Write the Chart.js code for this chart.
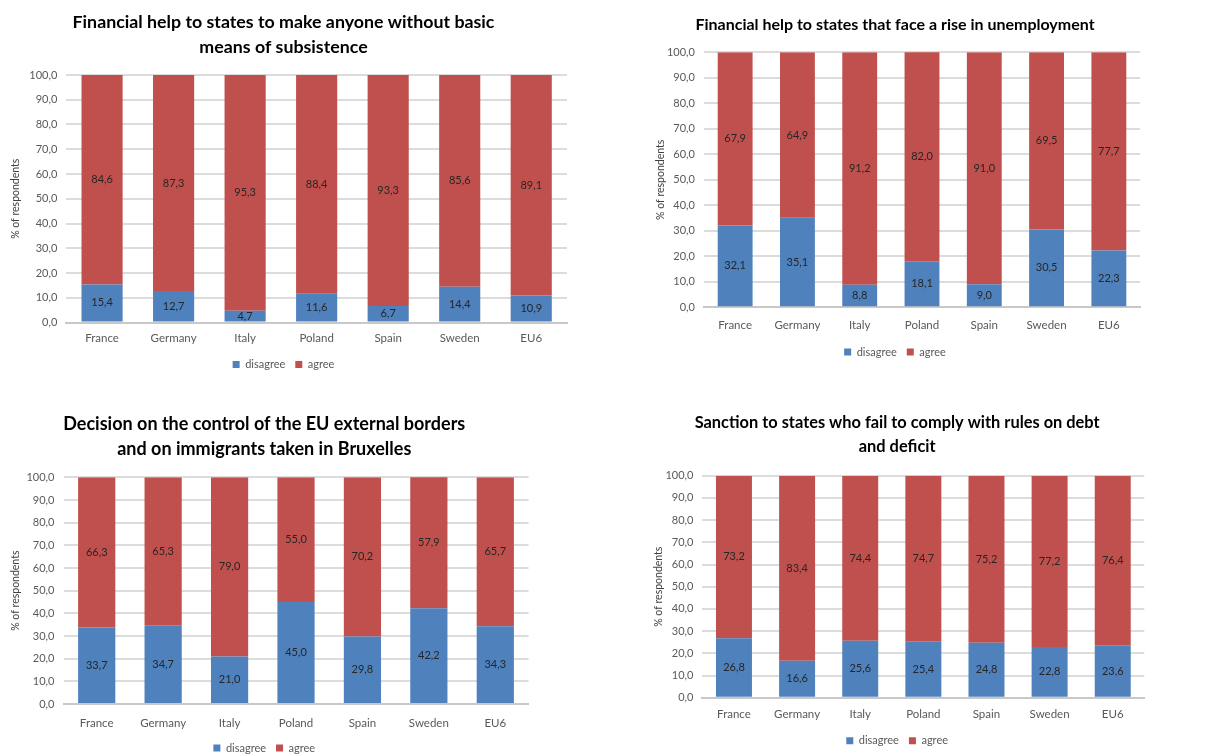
<!DOCTYPE html>
<html>
<head>
<meta charset="utf-8">
<script src="https://cdn.jsdelivr.net/npm/chart.js@4.4.1/dist/chart.umd.min.js"></script>
<style>
  html, body { margin: 0; padding: 0; background: #ffffff; overflow: hidden; }
  body { width: 1223px; height: 754px; position: relative; }
  .panel { position: absolute; }
  canvas { display: block; }
</style>
</head>
<body>
<div class="panel" id="p1"><canvas id="c1"></canvas></div>
<div class="panel" id="p2"><canvas id="c2"></canvas></div>
<div class="panel" id="p3"><canvas id="c3"></canvas></div>
<div class="panel" id="p4"><canvas id="c4"></canvas></div>
<script>
// Survey answers, % of respondents per country
const countries = ['France', 'Germany', 'Italy', 'Poland', 'Spain', 'Sweden', 'EU6'];
const seriesNames = ['disagree', 'agree'];
const yTicks = [0, 10, 20, 30, 40, 50, 60, 70, 80, 90, 100];

const titleSubsistence = ['Financial help to states to make anyone without basic', 'means of subsistence'];
const disagreeSubsistence = [15.4, 12.7, 4.7, 11.6, 6.7, 14.4, 10.9];
const agreeSubsistence = [84.6, 87.3, 95.3, 88.4, 93.3, 85.6, 89.1];

const titleUnemployment = 'Financial help to states that face a rise in unemployment';
const disagreeUnemployment = [32.1, 35.1, 8.8, 18.1, 9.0, 30.5, 22.3];
const agreeUnemployment = [67.9, 64.9, 91.2, 82.0, 91.0, 69.5, 77.7];

const titleBorders = ['Decision on the control of the EU external borders', 'and on immigrants taken in Bruxelles'];
const disagreeBorders = [33.7, 34.7, 21.0, 45.0, 29.8, 42.2, 34.3];
const agreeBorders = [66.3, 65.3, 79.0, 55.0, 70.2, 57.9, 65.7];

const titleSanction = ['Sanction to states who fail to comply with rules on debt', 'and deficit'];
const disagreeSanction = [26.8, 16.6, 25.6, 25.4, 24.8, 22.8, 23.6];
const agreeSanction = [73.2, 83.4, 74.4, 74.7, 75.2, 77.2, 76.4];

const BLUE = '#4F81BD';
const RED = '#C0504D';
const FONT = "Lato, 'Open Sans', sans-serif";

const fmt = v => Number(v).toFixed(1).replace('.', ',');

// Writes each segment's value in the middle of its bar piece
const segmentLabels = {
  id: 'segmentLabels',
  afterDatasetsDraw(chart) {
    const ctx = chart.ctx;
    ctx.save();
    ctx.font = '11px ' + FONT;
    ctx.fillStyle = '#262626';
    ctx.textAlign = 'center';
    ctx.textBaseline = 'middle';
    chart.data.datasets.forEach((ds, di) => {
      chart.getDatasetMeta(di).data.forEach((bar, i) => {
        const p = bar.getProps(['x', 'y', 'base'], true);
        ctx.fillText(fmt(ds.data[i]), p.x, (p.y + p.base) / 2);
      });
    });
    ctx.restore();
  }
};

function makeChart(cfg) {
  const panel = document.getElementById(cfg.panel);
  panel.style.left = cfg.left + 'px';
  panel.style.top = cfg.top + 'px';
  const canvas = document.getElementById(cfg.canvas);
  canvas.width = cfg.width;
  canvas.height = cfg.height;
  canvas.style.width = cfg.width + 'px';
  canvas.style.height = cfg.height + 'px';

  return new Chart(canvas, {
    type: 'bar',
    data: {
      labels: countries,
      datasets: [
        { label: seriesNames[0], data: cfg.disagree, backgroundColor: BLUE },
        { label: seriesNames[1], data: cfg.agree, backgroundColor: RED }
      ]
    },
    options: {
      responsive: false,
      animation: false,
      devicePixelRatio: 1,
      layout: { padding: cfg.padding },
      datasets: { bar: { categoryPercentage: 1, barPercentage: cfg.barPct } },
      plugins: {
        title: {
          display: true,
          text: cfg.title,
          color: '#000000',
          font: { family: FONT, size: cfg.titleSize, weight: 'bold', lineHeight: cfg.titleLine / cfg.titleSize },
          padding: cfg.titlePad
        },
        legend: {
          display: true,
          position: 'bottom',
          labels: {
            boxWidth: 7,
            boxHeight: 7,
            padding: 10,
            color: '#595959',
            font: { family: FONT, size: 11 }
          }
        },
        tooltip: { enabled: false }
      },
      scales: {
        x: {
          stacked: true,
          grid: { display: false, drawTicks: false },
          border: { display: true, color: '#C8C8C8', width: 2 },
          ticks: { color: '#595959', font: { family: FONT, size: 11.5 }, padding: cfg.xPad, maxRotation: 0 },
          afterFit: s => { s.height = cfg.xHeight; }
        },
        y: {
          stacked: true,
          min: 0,
          max: 100,
          afterBuildTicks: s => { s.ticks = yTicks.map(v => ({ value: v })); },
          grid: { color: '#DCDCDC', lineWidth: 2, drawTicks: false },
          border: { display: false },
          ticks: { color: '#595959', font: { family: FONT, size: 11 }, padding: 9, callback: v => fmt(v) },
          title: {
            display: true,
            text: '% of respondents',
            color: '#404040',
            font: { family: FONT, size: 10.5 },
            padding: { top: cfg.yTitlePad, bottom: 0 }
          },
          afterFit: s => { s.width = cfg.yWidth; }
        }
      }
    },
    plugins: [segmentLabels]
  });
}

makeChart({
  panel: 'p1', canvas: 'c1', left: 0, top: 0, width: 570, height: 380,
  padding: { left: 0, right: 3, top: 0, bottom: 0 },
  title: titleSubsistence, titleSize: 17.8, titleLine: 25, titlePad: { top: 9.5, bottom: 15.5 },
  disagree: disagreeSubsistence, agree: agreeSubsistence,
  barPct: 0.575, xHeight: 26.5, xPad: 9, yWidth: 66.3, yTitlePad: 9
});

makeChart({
  panel: 'p2', canvas: 'c2', left: 620, top: 0, width: 556, height: 370,
  padding: { left: 30, right: 36, top: 0, bottom: 2.5 },
  title: titleUnemployment, titleSize: 16, titleLine: 24.6, titlePad: { top: 12.7, bottom: 15 },
  disagree: disagreeUnemployment, agree: agreeUnemployment,
  barPct: 0.56, xHeight: 29.2, xPad: 11, yWidth: 54, yTitlePad: 4
});

makeChart({
  panel: 'p3', canvas: 'c3', left: 0, top: 400, width: 536, height: 364,
  padding: { left: 0, right: 7.5, top: 0, bottom: 0.5 },
  title: titleBorders, titleSize: 18, titleLine: 25, titlePad: { top: 11.5, bottom: 15.8 },
  disagree: disagreeBorders, agree: agreeBorders,
  barPct: 0.56, xHeight: 28.5, xPad: 12, yWidth: 63.5, yTitlePad: 9
});

makeChart({
  panel: 'p4', canvas: 'c4', left: 620, top: 400, width: 555, height: 357,
  padding: { left: 30, right: 30.7, top: 0, bottom: 0.8 },
  title: titleSanction, titleSize: 16.4, titleLine: 24, titlePad: { top: 11, bottom: 16.7 },
  disagree: disagreeSanction, agree: agreeSanction,
  barPct: 0.57, xHeight: 27.5, xPad: 9.8, yWidth: 52.4, yTitlePad: 2
});
</script>
</body>
</html>
